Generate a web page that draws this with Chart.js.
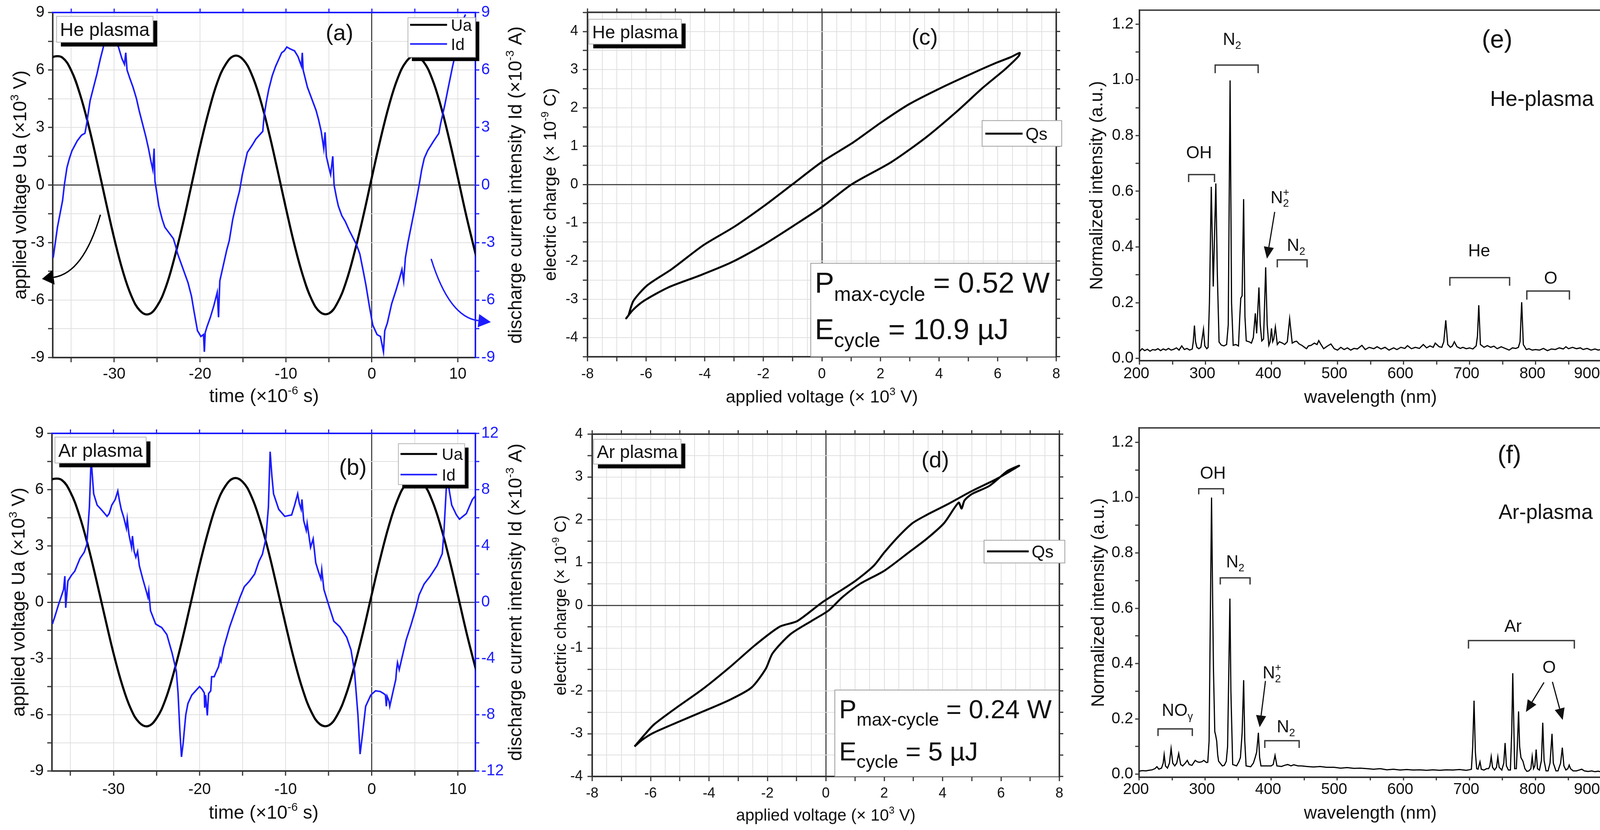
<!DOCTYPE html>
<html>
<head>
<meta charset="utf-8">
<title>DBD plasma: voltage/current, Q-V loops and emission spectra</title>
<script src="https://cdn.jsdelivr.net/npm/chart.js@4.4.1/dist/chart.umd.min.js"></script>
<style>
html,body{margin:0;padding:0;background:#ffffff;overflow:hidden;width:4128px;height:2124px;}
#wrap{position:absolute;left:0;top:0;width:4128px;height:2124px;background:#ffffff;overflow:hidden;}
#wrap canvas{position:absolute;display:block;}
</style>
</head>
<body>
<div id="wrap"></div>
<script>
// ---------------- DATA ----------------
// time axis samples for applied voltage (x10^-6 s)
const uaTime = [-37.5,-37,-36,-35,-34,-33,-32,-31,-30,-29,-28,-27,-26,-25,-24,-23,-22,-21,-20,-19,-18,-17,-16,-15,-14,-13,-12,-11,-10,-9,-8,-7,-6,-5,-4,-3,-2,-1,0,1,2,3,4,5,6,7,8,9,10,11,12,12.5];
// applied voltage Ua, He plasma (x10^3 V)
const uaHe = [6.50,6.70,6.64,5.98,4.77,3.14,1.22,-0.81,-2.77,-4.48,-5.78,-6.55,-6.74,-6.31,-5.34,-3.83,-2.02,0.00,2.02,3.83,5.34,6.31,6.74,6.55,5.78,4.48,2.77,0.81,-1.22,-3.14,-4.77,-5.98,-6.64,-6.70,-6.14,-5.05,-3.47,-1.62,0.41,2.39,4.16,5.56,6.44,6.75,6.44,5.56,4.16,2.39,0.41,-1.62,-3.47,-4.32];
// applied voltage Ua, Ar plasma (x10^3 V)
const uaAr = [6.38,6.57,6.51,5.86,4.68,3.08,1.20,-0.79,-2.72,-4.39,-5.67,-6.42,-6.61,-6.19,-5.24,-3.76,-1.98,0.00,1.98,3.76,5.24,6.19,6.61,6.42,5.67,4.39,2.72,0.79,-1.20,-3.08,-4.68,-5.86,-6.51,-6.57,-6.02,-4.95,-3.40,-1.59,0.40,2.34,4.08,5.45,6.32,6.62,6.32,5.45,4.08,2.34,0.40,-1.59,-3.40,-4.24];

// discharge current Id, He plasma (x10^-3 A)
const idHeTime = [-37.1,-36.6,-36.0,-35.8,-35.5,-35.2,-34.9,-34.3,-33.8,-33.4,
 -33.2,-32.8,-32.4,-32.0,-31.6,-31.2,-30.8,-30.3,-29.9,-29.5,
 -29.1,-28.8,-28.65,-28.5,-28.2,-27.8,-27.4,-27.1,-26.7,-26.3,
 -26.0,-25.7,-25.5,-25.35,-25.25,-25.0,-24.8,-24.4,-24.1,-23.6,
 -23.1,-22.9,-22.6,-22.2,-21.8,-21.4,-21.0,-20.7,-20.3,-19.9,
 -19.6,-19.5,-19.4,-19.2,-18.8,-18.4,-18.0,-17.85,-17.7,-17.3,
 -16.9,-16.6,-16.2,-15.8,-15.4,-15.1,-14.8,-14.5,-14.2,-13.9,
 -13.5,-13.1,-12.7,-12.55,-12.3,-12.0,-11.6,-11.2,-10.8,-10.5,
 -10.2,-9.9,-9.5,-9.0,-8.6,-8.2,-8.1,-8.0,-7.5,-7.0,
 -6.5,-6.2,-5.9,-5.6,-5.45,-5.3,-5.0,-4.8,-4.55,-4.4,
 -4.1,-3.9,-3.5,-3.1,-2.6,-2.2,-1.8,-1.4,-1.0,-0.7,
 -0.3,0.1,0.6,1.0,1.35,1.5,1.8,2.3,2.8,3.2,
 3.5,3.7,3.9,4.2,4.6,5.0,5.5,5.8,6.1,6.5,
 7.2,7.8,8.0,8.5,8.9,9.4,9.9,10.3,10.6,10.9];
const idHe = [-3.8,-2.2,-0.8,0.0,0.9,1.4,1.8,2.3,2.6,2.7,
 3.2,4.4,5.1,5.8,6.6,7.3,7.5,7.7,7.5,7.2,
 6.6,6.3,6.9,6.0,5.6,5.1,4.5,3.9,3.2,2.5,
 1.9,1.2,0.8,1.9,0.2,-0.5,-1.1,-1.8,-2.2,-2.5,
 -2.8,-3.1,-3.6,-4.1,-4.6,-5.1,-5.8,-6.6,-7.6,-7.9,
 -7.8,-8.7,-7.7,-7.4,-6.9,-6.3,-5.6,-6.9,-5.0,-4.2,
 -3.4,-2.9,-1.8,-1.0,-0.3,0.5,1.1,1.7,1.9,2.1,
 2.4,2.6,2.8,3.6,4.3,5.0,5.7,6.2,6.6,6.9,
 7.0,7.2,7.1,7.0,6.7,6.2,6.9,6.0,5.1,4.5,
 3.9,3.4,2.8,1.9,2.75,1.5,0.9,0.55,1.5,0.0,
 -0.7,-1.1,-1.6,-1.9,-2.4,-2.75,-3.1,-3.6,-4.5,-5.2,
 -6.3,-7.3,-7.8,-7.9,-8.7,-7.6,-7.2,-6.2,-5.5,-4.9,
 -4.4,-5.0,-3.8,-3.0,-2.1,-1.2,0.0,0.8,1.4,1.8,
 2.3,2.7,3.2,4.2,5.1,6.2,7.2,8.0,8.6,8.9];

// discharge current Id, Ar plasma (x10^-3 A)
const idArTime = [-37.1,-36.8,-36.4,-35.8,-35.65,-35.55,-35.3,-34.9,-34.5,-33.9,
 -33.4,-33.1,-32.8,-32.6,-32.4,-32.3,-31.9,-31.3,-30.75,-30.5,
 -30.2,-29.8,-29.5,-29.3,-29.1,-28.8,-28.5,-28.4,-28.2,-27.9,
 -27.8,-27.6,-27.4,-27.2,-27.0,-26.6,-26.2,-26.0,-25.9,-25.7,
 -25.1,-24.7,-24.4,-23.8,-23.2,-22.7,-22.5,-22.3,-22.1,-21.9,
 -21.8,-21.6,-21.35,-20.9,-20.6,-20.0,-19.7,-19.45,-19.4,-19.3,
 -19.1,-18.95,-18.7,-18.6,-18.3,-18.1,-17.8,-17.6,-17.5,-17.2,
 -16.8,-16.5,-15.9,-15.3,-14.8,-14.2,-13.6,-13.1,-12.7,-12.3,
 -12.0,-11.8,-11.6,-11.4,-10.8,-10.1,-9.3,-8.95,-8.6,-8.4,
 -8.2,-8.1,-7.9,-7.6,-7.5,-7.1,-6.8,-6.5,-6.2,-5.9,
 -5.8,-5.55,-5.0,-4.4,-3.7,-2.9,-2.4,-2.0,-1.6,-1.35,
 -1.05,-0.7,-0.1,0.45,1.0,1.4,1.6,1.7,1.8,2.0,
 2.1,2.5,2.8,2.9,3.0,3.2,3.5,4.0,4.6,5.15,
 5.5,6.1,6.8,7.6,8.2,8.4,8.7,8.85,9.0,9.3,
 9.85,10.2,11.0,11.7,12.1];
const idAr = [-1.55,-1.0,-0.2,0.9,1.85,-0.4,1.5,1.9,2.2,3.1,
 3.55,4.1,6.75,10.2,8.5,7.7,6.9,6.5,6.1,6.3,
 6.9,7.3,7.9,7.2,6.6,6.0,5.25,5.9,4.8,3.9,
 4.7,3.6,3.2,3.6,2.6,1.66,0.8,0.35,0.8,-0.6,
 -1.55,-1.7,-1.8,-2.3,-3.6,-4.9,-6.45,-9.0,-11.0,-10.0,
 -9.3,-8.0,-7.2,-6.6,-6.4,-6.0,-6.2,-6.45,-7.5,-6.6,
 -8.05,-6.5,-6.3,-5.3,-5.3,-5.0,-4.6,-4.0,-4.2,-3.25,
 -2.4,-1.75,-0.7,0.35,1.1,1.5,2.0,2.9,3.4,4.5,
 6.75,10.7,9.0,7.7,6.6,6.1,6.2,6.9,7.7,7.0,
 6.6,7.3,5.8,5.1,5.6,3.9,4.5,2.8,2.2,1.66,
 2.3,0.9,-0.2,-1.35,-1.75,-2.5,-3.4,-4.9,-8.0,-10.8,
 -9.3,-7.4,-6.6,-6.3,-6.35,-6.5,-6.6,-7.4,-6.7,-7.0,
 -7.4,-6.3,-5.5,-4.75,-4.3,-4.8,-4.0,-2.7,-1.55,-0.4,
 0.5,1.3,1.85,2.6,3.45,5.05,8.45,8.8,8.0,6.9,
 6.2,5.9,6.3,7.3,7.6];

// Q-V Lissajous loop, He plasma: applied voltage (x10^3 V) / charge Qs (x10^-9 C)
const qvHeV = [-6.6,-6.43,-5.95,-5.12,-4.05,-2.98,-1.9,-1.01,0,1.07,2.02,2.98,4.05,5.12,5.95,6.45,6.75,6.72,6.45,6.19,5.48,4.64,3.57,2.38,1.01,0,-0.95,-2.02,-3.1,-4.17,-5.24,-6.07,-6.45,-6.68,-6.6];
const qvHeQ = [-3.42,-3.04,-2.63,-2.21,-1.59,-1.1,-0.52,0,0.59,1.1,1.62,2.1,2.52,2.9,3.18,3.33,3.44,3.36,3.15,2.97,2.52,1.93,1.24,0.59,0,-0.59,-1.07,-1.59,-2.04,-2.38,-2.69,-3.04,-3.28,-3.5,-3.42];
// Q-V Lissajous loop, Ar plasma
const qvArV = [-6.55,-6.2,-5.89,-5.17,-4.2,-3.26,-2.42,-1.58,-0.98,-0.14,0.57,1.05,1.65,2.01,2.49,2.97,3.45,4.17,5.0,5.84,6.62,
 6.4,6.2,5.6,5.0,4.75,4.65,4.55,4.05,3.45,2.85,2.01,1.17,0.57,0.1,-0.5,-1.22,-1.82,-2.06,-2.54,-3.26,-4.2,-5.17,-5.9,-6.3,-6.55];
const qvArQ = [-3.3,-3.02,-2.79,-2.42,-1.95,-1.43,-0.93,-0.5,-0.37,0.06,0.37,0.59,0.93,1.24,1.61,1.92,2.11,2.36,2.67,2.95,3.26,
 3.2,3.13,2.79,2.6,2.45,2.26,2.4,1.92,1.55,1.24,0.81,0.5,0.19,-0.12,-0.37,-0.68,-1.12,-1.49,-1.92,-2.2,-2.48,-2.76,-2.98,-3.15,-3.3];

// Emission spectrum, He plasma: [wavelength nm, normalized intensity]
const specHe = [
[200,0.025],[204,0.035],[208,0.028],[212,0.033],[216,0.026],[220,0.032],[224,0.03],[228,0.035],[232,0.028],[236,0.034],
[240,0.03],[244,0.036],[248,0.03],[252,0.033],[256,0.038],[260,0.03],[264,0.045],[268,0.032],[272,0.036],[276,0.03],
[280,0.034],[281.5,0.06],[283.3,0.118],[285,0.06],[287,0.04],[290,0.035],[293,0.04],[295.5,0.08],[297,0.105],[299,0.045],
[302,0.035],[304,0.04],[306,0.2],[308.8,0.616],[311.8,0.258],[315.7,0.628],[318,0.3],[320.6,0.059],[324,0.048],[328,0.045],
[332,0.05],[334.5,0.12],[337.3,0.998],[339.5,0.2],[342,0.047],[346,0.05],[350,0.045],[352,0.15],[353.5,0.216],[355.5,0.225],
[357.8,0.572],[359.8,0.15],[361.8,0.063],[366,0.06],[369.6,0.055],[372.5,0.075],[375.5,0.162],[377.5,0.09],[381,0.255],[383,0.12],
[385.3,0.063],[388,0.07],[391.2,0.327],[393.5,0.12],[396,0.047],[398,0.06],[400,0.108],[401.8,0.06],[403.5,0.07],[405.9,0.113],
[408.8,0.05],[412,0.06],[416.7,0.055],[420,0.05],[424,0.06],[427.5,0.143],[431.4,0.055],[435,0.06],[438,0.062],[442,0.052],
[446,0.047],[450,0.04],[453,0.035],[456,0.045],[460,0.047],[465,0.055],[469,0.05],[471.6,0.064],[475,0.05],[479,0.035],
[485,0.045],[490,0.052],[495,0.035],[500,0.03],[505,0.04],[510,0.032],[515,0.038],[520,0.03],[525,0.036],[530,0.034],
[537,0.047],[542,0.032],[548,0.04],[555,0.035],[560,0.042],[566,0.034],[572,0.04],[578,0.03],[585,0.038],[590,0.032],
[596,0.04],[602,0.036],[606,0.046],[612,0.035],[618,0.04],[624,0.036],[630,0.05],[635,0.038],[640,0.045],[645,0.04],
[648,0.055],[654,0.042],[658,0.04],[661,0.06],[664,0.137],[667,0.05],[671,0.04],[674,0.045],[677,0.06],[681,0.042],
[686,0.036],[690,0.04],[695,0.035],[700,0.038],[705,0.034],[710,0.045],[712,0.08],[714,0.191],[716.5,0.05],[722,0.04],
[727,0.046],[732,0.04],[737,0.044],[742,0.035],[748,0.042],[754,0.036],[760,0.03],[765,0.038],[770,0.036],[774,0.04],
[776.5,0.06],[779,0.202],[781.5,0.05],[786,0.032],[790,0.035],[795,0.03],[800,0.032],[806,0.03],[812,0.036],[818,0.028],
[824,0.034],[830,0.032],[836,0.038],[842,0.034],[846,0.042],[850,0.035],[856,0.04],[862,0.035],[868,0.038],[872,0.032],
[878,0.036],[884,0.03],[890,0.034],[895,0.03],[900,0.033]
];
// Emission spectrum, Ar plasma
const specAr = [
[200,0.011],[205,0.013],[210,0.012],[215,0.014],[220,0.016],[224,0.02],[227,0.027],[230,0.018],[234,0.022],[236.5,0.04],
[238,0.071],[240,0.03],[243,0.022],[246,0.04],[248.5,0.093],[251,0.04],[254,0.03],[257,0.04],[260,0.075],[263,0.035],
[266,0.03],[270,0.04],[273,0.05],[276,0.035],[280,0.032],[285,0.05],[288,0.045],[291,0.043],[295,0.045],[298,0.05],
[302,0.042],[304,0.043],[306,0.12],[308,0.6],[309.7,1.0],[311.5,0.6],[312.6,0.38],[314.6,0.154],[316,0.14],[317.5,0.12],
[319,0.07],[320.4,0.047],[326,0.03],[329,0.032],[332,0.047],[334,0.1],[336,0.4],[337.5,0.635],[339,0.3],[341.7,0.035],
[347.6,0.03],[351,0.045],[353.4,0.06],[356,0.15],[358.3,0.34],[360,0.12],[362,0.03],[369,0.027],[373,0.04],[375.7,0.06],
[378,0.08],[380.6,0.15],[382.5,0.06],[384.5,0.03],[392,0.03],[400,0.03],[403,0.035],[405.8,0.068],[408.7,0.03],[415.5,0.028],
[420,0.032],[425,0.035],[430,0.03],[434,0.034],[440.8,0.03],[446,0.03],[454,0.028],[464,0.026],[474,0.028],[483.5,0.025],
[495,0.025],[505,0.022],[515,0.024],[525,0.021],[535,0.022],[545,0.02],[555,0.018],[565,0.02],[575,0.016],[585,0.018],
[595,0.015],[605,0.017],[615,0.015],[625,0.016],[635,0.014],[645,0.016],[655,0.014],[665,0.016],[675,0.015],[685,0.017],
[695,0.014],[700,0.016],[703,0.018],[705,0.1],[707,0.266],[709,0.08],[711,0.02],[713,0.018],[716,0.045],[718,0.018],
[722,0.015],[726,0.02],[729,0.02],[731,0.03],[733,0.064],[735,0.025],[738,0.015],[741,0.025],[743,0.062],[745,0.025],
[749,0.015],[752,0.04],[754,0.113],[756,0.03],[759,0.015],[762,0.015],[764,0.15],[765.6,0.365],[767,0.2],[768.5,0.02],
[771,0.02],[772.5,0.1],[774.4,0.227],[776,0.1],[778,0.06],[781,0.047],[784,0.02],[787,0.01],[790,0.012],[793,0.02],
[795,0.064],[797,0.02],[799,0.03],[801,0.089],[803,0.02],[806,0.015],[809,0.05],[811,0.186],[813,0.05],[816,0.012],
[819,0.012],[822,0.04],[825,0.146],[827,0.04],[831,0.012],[834,0.012],[838,0.04],[840.6,0.096],[843,0.03],[846,0.015],
[849,0.02],[851,0.033],[853,0.02],[857,0.012],[862,0.012],[866,0.015],[870,0.018],[874,0.012],[880,0.01],[885,0.012],
[890,0.009],[895,0.011],[900,0.008]
];

// ---------------- TICKS ----------------
const timeTicks = [-35,-30,-25,-20,-15,-10,-5,0,5,10];
const timeLabels = [-30,-20,-10,0,10];
const uaTicks = [-9,-7.5,-6,-4.5,-3,-1.5,0,1.5,3,4.5,6,7.5,9];
const uaLabels = [-9,-6,-3,0,3,6,9];
const idHeTicks = [-9,-7.5,-6,-4.5,-3,-1.5,0,1.5,3,4.5,6,7.5,9];
const idHeLabels = [-9,-6,-3,0,3,6,9];
const idArTicks = [-12,-10,-8,-6,-4,-2,0,2,4,6,8,10,12];
const idArLabels = [-12,-8,-4,0,4,8,12];
const voltTicks = [-8,-7.5,-7,-6.5,-6,-5.5,-5,-4.5,-4,-3.5,-3,-2.5,-2,-1.5,-1,-0.5,0,0.5,1,1.5,2,2.5,3,3.5,4,4.5,5,5.5,6,6.5,7,7.5,8];
const voltMarks = [-8,-7,-6,-5,-4,-3,-2,-1,0,1,2,3,4,5,6,7,8];
const voltLabels = [-8,-6,-4,-2,0,2,4,6,8];
const qHeTicks = [-4.5,-4,-3.5,-3,-2.5,-2,-1.5,-1,-0.5,0,0.5,1,1.5,2,2.5,3,3.5,4,4.5];
const qArTicks = [-4,-3.5,-3,-2.5,-2,-1.5,-1,-0.5,0,0.5,1,1.5,2,2.5,3,3.5,4];
const qLabels = [-4,-3,-2,-1,0,1,2,3,4];
const wlTicks = [200,250,300,350,400,450,500,550,600,650,700,750,800,850,900];
const wlLabels = [200,300,400,500,600,700,800,900];
const intTicks = [0,0.1,0.2,0.3,0.4,0.5,0.6,0.7,0.8,0.9,1.0,1.1,1.2];
const intLabels = [0,0.2,0.4,0.6,0.8,1.0,1.2];

// ---------------- HELPERS ----------------
const FAM = "'Liberation Sans', Arial, Helvetica, sans-serif";
const F = s => s + 'px ' + FAM;
const BLUE = '#1c1cff', TXT = '#111111', AXC = '#333333', GRIDC = '#e0e0e0', ZEROC = '#4a4a4a';
Chart.defaults.font.family = FAM;

function isIn(v, arr) { return arr.some(m => Math.abs(m - v) < 1e-6); }
function xy(xs, ys) { return xs.map((x, i) => ({x: x, y: ys[i]})); }
function pairs(arr) { return arr.map(p => ({x: p[0], y: p[1]})); }

function axis(o) {
  return {
    type: 'linear', position: o.position, min: o.min, max: o.max,
    afterBuildTicks: s => { s.ticks = o.ticks.map(v => ({value: v})); },
    afterFit: s => { if (o.position === 'bottom' || o.position === 'top') s.height = o.size; else s.width = o.size; },
    ticks: { autoSkip: false, maxRotation: 0, minRotation: 0, padding: o.pad, color: o.color || TXT,
      labelOffset: o.lo || 0,
      font: { family: FAM, size: o.fs }, callback: v => isIn(v, o.labels) ? o.fmt(v) : '' },
    grid: { display: true, drawOnChartArea: !!o.grid, drawTicks: true, tickLength: o.tl, tickWidth: 3,
      tickColor: c => (o.marks && c.tick && !isIn(c.tick.value, o.marks)) ? 'rgba(0,0,0,0)' : (o.tickColor || AXC),
      color: c => (o.zero && c.tick && Math.abs(c.tick.value) < 1e-9) ? ZEROC : GRIDC,
      lineWidth: c => (o.zero && c.tick && Math.abs(c.tick.value) < 1e-9) ? 3 : 2 },
    border: { display: true, color: o.bcolor || AXC, width: 4 }
  };
}

function ln(ctx, x1, y1, x2, y2) { ctx.beginPath(); ctx.moveTo(x1, y1); ctx.lineTo(x2, y2); ctx.stroke(); }
function boxS(ctx, x, y, w, h, sh, border) {
  if (sh) { ctx.fillStyle = '#000'; ctx.fillRect(x + sh, y + sh, w, h); }
  ctx.fillStyle = '#fff'; ctx.fillRect(x, y, w, h);
  ctx.strokeStyle = border || '#b5b5b5'; ctx.lineWidth = 2; ctx.strokeRect(x, y, w, h);
}
function labelBox(ctx, text, x, y, fs) {
  ctx.font = F(fs);
  const w = ctx.measureText(text).width + fs * 0.36, h = fs * 1.38;
  boxS(ctx, x, y, w, h, 11);
  ctx.fillStyle = TXT; ctx.textAlign = 'left'; ctx.textBaseline = 'alphabetic';
  ctx.fillText(text, x + fs * 0.18, y + h / 2 + fs * 0.36);
}
function ctext(ctx, text, x, yc, fs, align, color) {
  ctx.font = F(fs); ctx.fillStyle = color || TXT; ctx.textAlign = align || 'center'; ctx.textBaseline = 'alphabetic';
  ctx.fillText(text, x, yc + fs * 0.36);
}
function rich(ctx, parts, x, y, fs, opt) {
  opt = opt || {};
  const sc = opt.sc || 0.62;
  const subDy = (opt.subDy != null ? opt.subDy : 0.22) * fs, supDy = (opt.supDy != null ? opt.supDy : 0.42) * fs;
  ctx.save();
  ctx.translate(x, y); if (opt.rot) ctx.rotate(opt.rot);
  ctx.textAlign = 'left'; ctx.textBaseline = 'alphabetic'; ctx.fillStyle = opt.color || TXT;
  const widths = parts.map(pp => { ctx.font = F(pp[1] === 'n' ? fs : fs * sc); return ctx.measureText(pp[0]).width; });
  let total = 0, pend = 0;
  parts.forEach((pp, i) => { if (pp[2]) pend = widths[i]; else { total += Math.max(widths[i], pend); pend = 0; } });
  let cx = opt.align === 'center' ? -total / 2 : (opt.align === 'right' ? -total : 0);
  pend = 0;
  parts.forEach((pp, i) => {
    ctx.font = F(pp[1] === 'n' ? fs : fs * sc);
    const dy = pp[1] === 'sub' ? subDy : (pp[1] === 'sup' ? -supDy : 0);
    ctx.fillText(pp[0], cx, dy);
    if (pp[2]) pend = widths[i]; else { cx += Math.max(widths[i], pend); pend = 0; }
  });
  ctx.restore();
}
function vTitle(ctx, parts, xc, yc, fs) { rich(ctx, parts, xc + fs * 0.36, yc, fs, {align: 'center', rot: -Math.PI / 2}); }
function hTitle(ctx, parts, xc, yc, fs) { rich(ctx, parts, xc, yc + fs * 0.36, fs, {align: 'center'}); }
function bracket(ctx, x1, x2, yt, yl) {
  ctx.strokeStyle = '#3c3c3c'; ctx.lineWidth = 3.5; ctx.lineJoin = 'miter';
  ctx.beginPath(); ctx.moveTo(x1, yl); ctx.lineTo(x1, yt); ctx.lineTo(x2, yt); ctx.lineTo(x2, yl); ctx.stroke();
}
function head(ctx, tx, ty, dx, dy, len, w, color) {
  const n = Math.hypot(dx, dy), ux = dx / n, uy = dy / n;
  const bx = tx - ux * len, by = ty - uy * len;
  ctx.fillStyle = color; ctx.beginPath(); ctx.moveTo(tx, ty);
  ctx.lineTo(bx - uy * w / 2, by + ux * w / 2); ctx.lineTo(bx + uy * w / 2, by - ux * w / 2); ctx.closePath(); ctx.fill();
  return [bx, by];
}
function arrowS(ctx, x1, y1, x2, y2, color, len, w, lw) {
  const b = head(ctx, x2, y2, x2 - x1, y2 - y1, len, w, color);
  ctx.strokeStyle = color; ctx.lineWidth = lw; ln(ctx, x1, y1, b[0], b[1]);
}
function arrowC(ctx, x0, y0, cx1, cy1, x2, y2, color, len, w, lw) {
  const b = head(ctx, x2, y2, x2 - cx1, y2 - cy1, len, w, color);
  ctx.strokeStyle = color; ctx.lineWidth = lw;
  ctx.beginPath(); ctx.moveTo(x0, y0); ctx.quadraticCurveTo(cx1, cy1, b[0], b[1]); ctx.stroke();
}

// p: cx,cy,cw,ch = canvas box (page px); L,R,T,B = wanted plot area (page px); yW = left axis width; y2W = right axis width
function panel(p) {
  const cv = document.createElement('canvas');
  cv.width = p.cw; cv.height = p.ch;
  cv.style.width = p.cw + 'px'; cv.style.height = p.ch + 'px';
  p.ox = p.cx; p.oy = p.cy;
  cv.style.left = p.ox + 'px'; cv.style.top = p.oy + 'px';
  document.getElementById('wrap').appendChild(cv);
  const xh = 80;
  const pad = { left: (p.L - p.cx) - p.yW, top: p.T - p.cy, right: (p.cx + p.cw) - p.R - (p.y2W || 0), bottom: (p.cy + p.ch) - p.B - xh };
  const ch = new Chart(cv.getContext('2d'), {
    type: 'line',
    data: { datasets: p.datasets },
    options: {
      responsive: false, maintainAspectRatio: false, animation: false, devicePixelRatio: 1, events: [],
      layout: { autoPadding: false, padding: pad },
      plugins: { legend: { display: false }, tooltip: { enabled: false }, title: { display: false } },
      elements: { point: { radius: 0 } },
      scales: p.scales
    },
    plugins: [{ id: 'deco_' + p.name, afterDraw: c => { c.ctx.save(); p.deco(c, c.ctx, p); c.ctx.restore(); } }]
  });
  for (let k = 0; k < 4; k++) {
    const A = ch.chartArea;
    const dW = (A.right - A.left) - (p.R - p.L), dH = (A.bottom - A.top) - (p.B - p.T);
    if (Math.abs(dW) < 0.5 && Math.abs(dH) < 0.5) break;
    pad.right += dW; pad.bottom += dH;
    ch.options.layout.padding = { left: pad.left, top: pad.top, right: pad.right, bottom: pad.bottom };
    ch.update('none');
  }
  const A = ch.chartArea;
  p.ox = p.L - A.left; p.oy = p.T - A.top;
  cv.style.left = p.ox + 'px'; cv.style.top = p.oy + 'px';
  ch.draw();
  return ch;
}

const str = v => String(v);
const fix1 = v => v.toFixed(1);

// ---------- waveform panels (a) and (b) ----------
function waveDeco(cfg) {
  return (ch, ctx, p) => {
    const X = v => ch.scales.x.getPixelForValue(v), Y = v => ch.scales.y.getPixelForValue(v), A = ch.chartArea;
    ctx.strokeStyle = BLUE; ctx.lineWidth = 4; ln(ctx, A.left - 2, A.top, A.right + 2, A.top);
    ctx.lineWidth = 3; timeTicks.forEach(v => ln(ctx, X(v), A.top, X(v), A.top - 10));
    labelBox(ctx, cfg.plasma, X(cfg.pb[0]), Y(cfg.pb[1]), 48);
    ctext(ctx, cfg.tag, X(cfg.tagAt[0]), Y(cfg.tagAt[1]), 58);
    const lg = cfg.leg;
    const lx = X(lg.x1), ly = Y(lg.y1), lr = lg.x2 == null ? A.right : X(lg.x2);
    boxS(ctx, lx, ly, lr - lx, Y(lg.y2) - ly, 10);
    ctx.lineWidth = 5; ctx.strokeStyle = '#000'; ln(ctx, X(lg.l1), Y(lg.ya), X(lg.l2), Y(lg.ya));
    ctx.lineWidth = 4; ctx.strokeStyle = BLUE; ln(ctx, X(lg.l1), Y(lg.yb), X(lg.l2), Y(lg.yb));
    ctext(ctx, 'Ua', X(lg.tx), Y(lg.ya), 42, 'left');
    ctext(ctx, 'Id', X(lg.tx), Y(lg.yb), 42, 'left');
    if (cfg.arrows) {
      arrowC(ctx, X(-31.6), Y(-1.55), X(-33.6), Y(-4.6), X(-38.4), Y(-4.9), '#000', 30, 38, 3.5);
      arrowC(ctx, X(6.9), Y(-3.85), X(9.0), Y(-6.9), X(13.85), Y(-7.15), BLUE, 32, 34, 3.5);
    }
    const ym = (A.top + A.bottom) / 2;
    vTitle(ctx, [['applied voltage Ua (×10', 'n'], ['3', 'sup'], [' V)', 'n']], cfg.ltx - p.ox, ym, 48);
    vTitle(ctx, [['discharge current intensity Id (×10', 'n'], ['-3', 'sup'], [' A)', 'n']], 1318 - p.ox, ym, 48);
    hTitle(ctx, [['time (×10', 'n'], ['-6', 'sup'], [' s)', 'n']], (A.left + A.right) / 2, cfg.bty - p.oy, 48);
  };
}

panel({
  name: 'a', cx: 0, cy: 0, cw: 1360, ch: 1062, L: 135, R: 1217, T: 32, B: 915, yW: 135, y2W: 120,
  datasets: [
    { label: 'Id', data: xy(idHeTime, idHe), yAxisID: 'y2', borderColor: BLUE, borderWidth: 4, tension: 0, pointRadius: 0 },
    { label: 'Ua', data: xy(uaTime, uaHe), yAxisID: 'y', borderColor: '#000', borderWidth: 5.5, tension: 0.4, pointRadius: 0 }
  ],
  scales: {
    x: axis({position: 'bottom', min: -37.15, max: 12.05, ticks: timeTicks, labels: timeLabels, fmt: str, fs: 40, pad: 7, tl: 12, size: 80, grid: true, zero: true}),
    y: axis({position: 'left', min: -9, max: 9, ticks: uaTicks, labels: uaLabels, fmt: str, fs: 40, pad: 9, tl: 12, size: 135, grid: true, zero: true}),
    y2: axis({position: 'right', min: -9, max: 9, ticks: idHeTicks, labels: idHeLabels, fmt: str, fs: 40, pad: 5, tl: 10, size: 120, grid: false, color: BLUE, tickColor: BLUE, bcolor: BLUE})
  },
  deco: waveDeco({plasma: 'He plasma', pb: [-36.7, 8.8], tag: '(a)', tagAt: [-3.77, 7.98],
    leg: {x1: 4.2, y1: 8.73, x2: null, y2: 6.67, l1: 4.45, l2: 8.75, ya: 8.36, yb: 7.36, tx: 9.2},
    arrows: true, ltx: 50, bty: 1012})
});

panel({
  name: 'b', cx: 0, cy: 1062, cw: 1360, ch: 1062, L: 133, R: 1217, T: 1109, B: 1973, yW: 133, y2W: 120,
  datasets: [
    { label: 'Id', data: xy(idArTime, idAr), yAxisID: 'y2', borderColor: BLUE, borderWidth: 4, tension: 0, pointRadius: 0 },
    { label: 'Ua', data: xy(uaTime, uaAr), yAxisID: 'y', borderColor: '#000', borderWidth: 5.5, tension: 0.4, pointRadius: 0 }
  ],
  scales: {
    x: axis({position: 'bottom', min: -37.15, max: 12.05, ticks: timeTicks, labels: timeLabels, fmt: str, fs: 40, pad: 12, tl: 12, size: 80, grid: true, zero: true}),
    y: axis({position: 'left', min: -9, max: 9, ticks: uaTicks, labels: uaLabels, fmt: str, fs: 40, pad: 9, tl: 12, size: 133, grid: true, zero: true}),
    y2: axis({position: 'right', min: -12, max: 12, ticks: idArTicks, labels: idArLabels, fmt: str, fs: 40, pad: 5, tl: 10, size: 120, grid: false, color: BLUE, tickColor: BLUE, bcolor: BLUE})
  },
  deco: waveDeco({plasma: 'Ar plasma', pb: [-36.8, 8.8], tag: '(b)', tagAt: [-2.18, 7.23],
    leg: {x1: 3.1, y1: 8.45, x2: 10.8, y2: 6.27, l1: 3.35, l2: 7.6, ya: 7.9, yb: 6.8, tx: 8.15},
    arrows: false, ltx: 46, bty: 2078})
});

// ---------- Q-V loop panels (c) and (d) ----------
function loopDeco(cfg) {
  return (ch, ctx, p) => {
    const X = v => ch.scales.x.getPixelForValue(v), Y = v => ch.scales.y.getPixelForValue(v), A = ch.chartArea;
    const pb = cfg.pbox;
    const bx = X(pb.left), by = Y(pb.top);
    boxS(ctx, bx, by, A.right - bx, A.bottom - by, 0, '#9a9a9a');
    rich(ctx, [['P', 'n'], ['max-cycle', 'sub'], [pb.p, 'n']], X(pb.tx), Y(pb.b1), pb.fs, {sc: 0.7, subDy: 0.28});
    rich(ctx, [['E', 'n'], ['cycle', 'sub'], [pb.e, 'n']], X(pb.tx), Y(pb.b2), pb.fs, {sc: 0.7, subDy: 0.28});
    ctx.strokeStyle = AXC; ctx.lineWidth = 4;
    ln(ctx, A.left - 2, A.top, A.right + 2, A.top); ln(ctx, A.right, A.top - 2, A.right, A.bottom + 2);
    ctx.lineWidth = 3;
    voltMarks.forEach(v => ln(ctx, X(v), A.top, X(v), A.top - 10));
    cfg.yt.forEach(v => ln(ctx, A.right, Y(v), A.right + 10, Y(v)));
    labelBox(ctx, cfg.plasma, X(-7.95), Y(cfg.pbY), 46);
    ctext(ctx, cfg.tag, X(cfg.tagAt[0]), Y(cfg.tagAt[1]), 58);
    const q = cfg.qs;
    const qx = X(q.left), qy = Y(q.top);
    boxS(ctx, qx, qy, A.right + 14 - qx, Y(q.bottom) - qy, 0, '#a0a0a0');
    ctx.strokeStyle = '#000'; ctx.lineWidth = 5; ln(ctx, X(q.l1), Y(q.ly), X(q.l2), Y(q.ly));
    ctext(ctx, 'Qs', X(q.tx), Y(q.ly), 44, 'left');
    vTitle(ctx, [['electric charge (× 10', 'n'], ['-9', 'sup'], [' C)', 'n']], cfg.ltx - p.ox, (A.top + A.bottom) / 2, cfg.tfs);
    hTitle(ctx, [['applied voltage (× 10', 'n'], ['3', 'sup'], [' V)', 'n']], (A.left + A.right) / 2, cfg.bty - p.oy, cfg.tfs);
  };
}

panel({
  name: 'c', cx: 1340, cy: 0, cw: 1440, ch: 1062, L: 1504, R: 2704, T: 32, B: 913, yW: 144,
  datasets: [
    { label: 'Qs', data: xy(qvHeV, qvHeQ), borderColor: '#000', borderWidth: 5, tension: 0.25, pointRadius: 0 }
  ],
  scales: {
    x: axis({position: 'bottom', min: -8, max: 8, ticks: voltTicks, labels: voltLabels, marks: voltMarks, fmt: str, fs: 36, pad: 12, tl: 12, size: 80, grid: true, zero: true}),
    y: axis({position: 'left', min: -4.5, max: 4.5, ticks: qHeTicks, labels: qLabels, fmt: str, fs: 36, pad: 12, tl: 12, size: 144, grid: true, zero: true})
  },
  deco: loopDeco({plasma: 'He plasma', pbY: 4.32, tag: '(c)', tagAt: [3.51, 3.87], yt: qHeTicks,
    qs: {left: 5.47, top: 1.67, bottom: 1.0, l1: 5.58, l2: 6.85, ly: 1.33, tx: 6.95},
    pbox: {left: -0.38, top: -2.06, tx: -0.24, b1: -2.83, b2: -4.04, fs: 74, p: ' = 0.52 W', e: ' = 10.9 µJ'},
    ltx: 1407, bty: 1014, tfs: 45})
});

panel({
  name: 'd', cx: 1340, cy: 1062, cw: 1440, ch: 1062, L: 1516, R: 2712, T: 1111, B: 1987, yW: 156,
  datasets: [
    { label: 'Qs', data: xy(qvArV, qvArQ), borderColor: '#000', borderWidth: 5, tension: 0.25, pointRadius: 0 }
  ],
  scales: {
    x: axis({position: 'bottom', min: -8, max: 8, ticks: voltTicks, labels: voltLabels, marks: voltMarks, fmt: str, fs: 36, pad: 10, tl: 12, size: 80, grid: true, zero: true}),
    y: axis({position: 'left', min: -4, max: 4, ticks: qArTicks, labels: qLabels, fmt: str, fs: 36, pad: 12, tl: 12, size: 156, grid: true, zero: true})
  },
  deco: loopDeco({plasma: 'Ar plasma', pbY: 3.88, tag: '(d)', tagAt: [3.75, 3.41], yt: qArTicks,
    qs: {left: 5.42, top: 1.52, bottom: 0.99, l1: 5.52, l2: 6.95, ly: 1.26, tx: 7.05},
    pbox: {left: 0.31, top: -1.98, tx: 0.455, b1: -2.64, b2: -3.63, fs: 67, p: ' = 0.24 W', e: ' = 5 µJ'},
    ltx: 1434, bty: 2085, tfs: 42})
});

// ---------- spectra panels (e) and (f) ----------
const N2 = [['N', 'n'], ['2', 'sub']];
const N2p = [['N', 'n'], ['2', 'sub', 1], ['+', 'sup']];
const wlLast = wlLabels[wlLabels.length - 1];
const wlAxisLabels = wlLabels.filter(v => v !== wlLast);
function specDeco(cfg) {
  return (ch, ctx, p) => {
    const X = v => ch.scales.x.getPixelForValue(v), Y = v => ch.scales.y.getPixelForValue(v), A = ch.chartArea;
    ctx.strokeStyle = AXC; ctx.lineWidth = 3.5;
    ln(ctx, A.left - 2, A.top, A.right + 2, A.top); ln(ctx, A.right, A.top - 2, A.right, A.bottom + 2);
    // last wavelength tick label, kept inside the figure like the original
    ctx.font = F(40); ctx.fillStyle = TXT; ctx.textAlign = 'right'; ctx.textBaseline = 'middle';
    ctx.fillText(String(wlLast), X(wlLast) - 4, A.bottom + cfg.tl + 24);
    ctext(ctx, cfg.tag, X(cfg.tagAt[0]), Y(cfg.tagAt[1]), 64);
    ctx.font = F(cfg.nfs); ctx.fillStyle = TXT; ctx.textAlign = 'left'; ctx.textBaseline = 'alphabetic';
    ctx.fillText(cfg.name, X(cfg.nameAt[0]), Y(cfg.nameAt[1]));
    cfg.items.forEach(it => {
      if (it.t) rich(ctx, it.t, X(it.at[0]), Y(it.at[1]) + 44 * 0.36, 44, {align: 'center'});
      if (it.b) bracket(ctx, X(it.b[0]), X(it.b[1]), Y(it.b[2]), Y(it.b[3]));
      if (it.a) arrowS(ctx, X(it.a[0]), Y(it.a[1]), X(it.a[2]), Y(it.a[3]), '#111', 30, 26, 3);
    });
    vTitle(ctx, [['Normalized intensity (a.u.)', 'n']], cfg.ltx - p.ox, (A.top + A.bottom) / 2, 46);
    hTitle(ctx, [['wavelength (nm)', 'n']], (A.left + A.right) / 2, cfg.bty - p.oy, 46);
  };
}

panel({
  name: 'e', cx: 2760, cy: 0, cw: 1368, ch: 1062, L: 2917, R: 4100, T: 26, B: 923, yW: 137,
  datasets: [
    { label: 'He', data: pairs(specHe), borderColor: '#000', borderWidth: 3, tension: 0, pointRadius: 0 }
  ],
  scales: {
    x: axis({position: 'bottom', min: 200, max: 900, ticks: wlTicks, labels: wlAxisLabels, fmt: str, fs: 40, pad: 0, tl: 10, size: 80, grid: false, lo: -8}),
    y: axis({position: 'left', min: -0.008, max: 1.25, ticks: intTicks, labels: intLabels, fmt: fix1, fs: 40, pad: 5, tl: 10, size: 137, grid: false})
  },
  deco: specDeco({tag: '(e)', tagAt: [741.8, 1.148], name: 'He-plasma', nfs: 55, nameAt: [731, 0.907], ltx: 2805, bty: 1014, tl: 10,
    items: [
      {t: N2, at: [340.2, 1.147]}, {b: [314.7, 379.8, 1.053, 1.024]},
      {t: [['OH', 'n']], at: [290.2, 0.74]}, {b: [274.5, 313.7, 0.66, 0.633]},
      {t: N2p, at: [412.7, 0.58]}, {a: [404.9, 0.526, 393.1, 0.358]},
      {t: N2, at: [437.3, 0.408]}, {b: [408.8, 453.9, 0.354, 0.327]},
      {t: [['He', 'n']], at: [714.6, 0.389]}, {b: [670.2, 760.7, 0.29, 0.261]},
      {t: [['O', 'n']], at: [823, 0.29]}, {b: [786.8, 851.3, 0.242, 0.211]}
    ]})
});

panel({
  name: 'f', cx: 2760, cy: 1062, cw: 1368, ch: 1062, L: 2916, R: 4100, T: 1095, B: 1989, yW: 136,
  datasets: [
    { label: 'Ar', data: pairs(specAr), borderColor: '#000', borderWidth: 3, tension: 0, pointRadius: 0 }
  ],
  scales: {
    x: axis({position: 'bottom', min: 200, max: 900, ticks: wlTicks, labels: wlAxisLabels, fmt: str, fs: 40, pad: 0, tl: 8, size: 80, grid: false, lo: -8}),
    y: axis({position: 'left', min: -0.011, max: 1.252, ticks: intTicks, labels: intLabels, fmt: fix1, fs: 40, pad: 5, tl: 10, size: 136, grid: false})
  },
  deco: specDeco({tag: '(f)', tagAt: [760.5, 1.158], name: 'Ar-plasma', nfs: 53, nameAt: [744, 0.923], ltx: 2809, bty: 2078, tl: 8,
    items: [
      {t: [['OH', 'n']], at: [311.7, 1.091]}, {b: [290.3, 327.6, 1.032, 1.012]},
      {t: N2, at: [345.6, 0.77]}, {b: [322.9, 368, 0.71, 0.686]},
      {t: [['NO', 'n'], ['γ', 'sub']], at: [258, 0.233]}, {b: [228.7, 280.6, 0.164, 0.138]},
      {t: N2p, at: [401, 0.369]}, {a: [391.3, 0.337, 382.5, 0.17]},
      {t: N2, at: [422.3, 0.174]}, {b: [390.3, 442.3, 0.121, 0.095]},
      {t: [['Ar', 'n']], at: [766, 0.537]}, {b: [698.6, 858.8, 0.483, 0.454]},
      {t: [['O', 'n']], at: [820.7, 0.388]}, {a: [812.9, 0.332, 785.5, 0.225]}, {a: [825.6, 0.334, 841.2, 0.196]}
    ]})
});
</script>
</body>
</html>
